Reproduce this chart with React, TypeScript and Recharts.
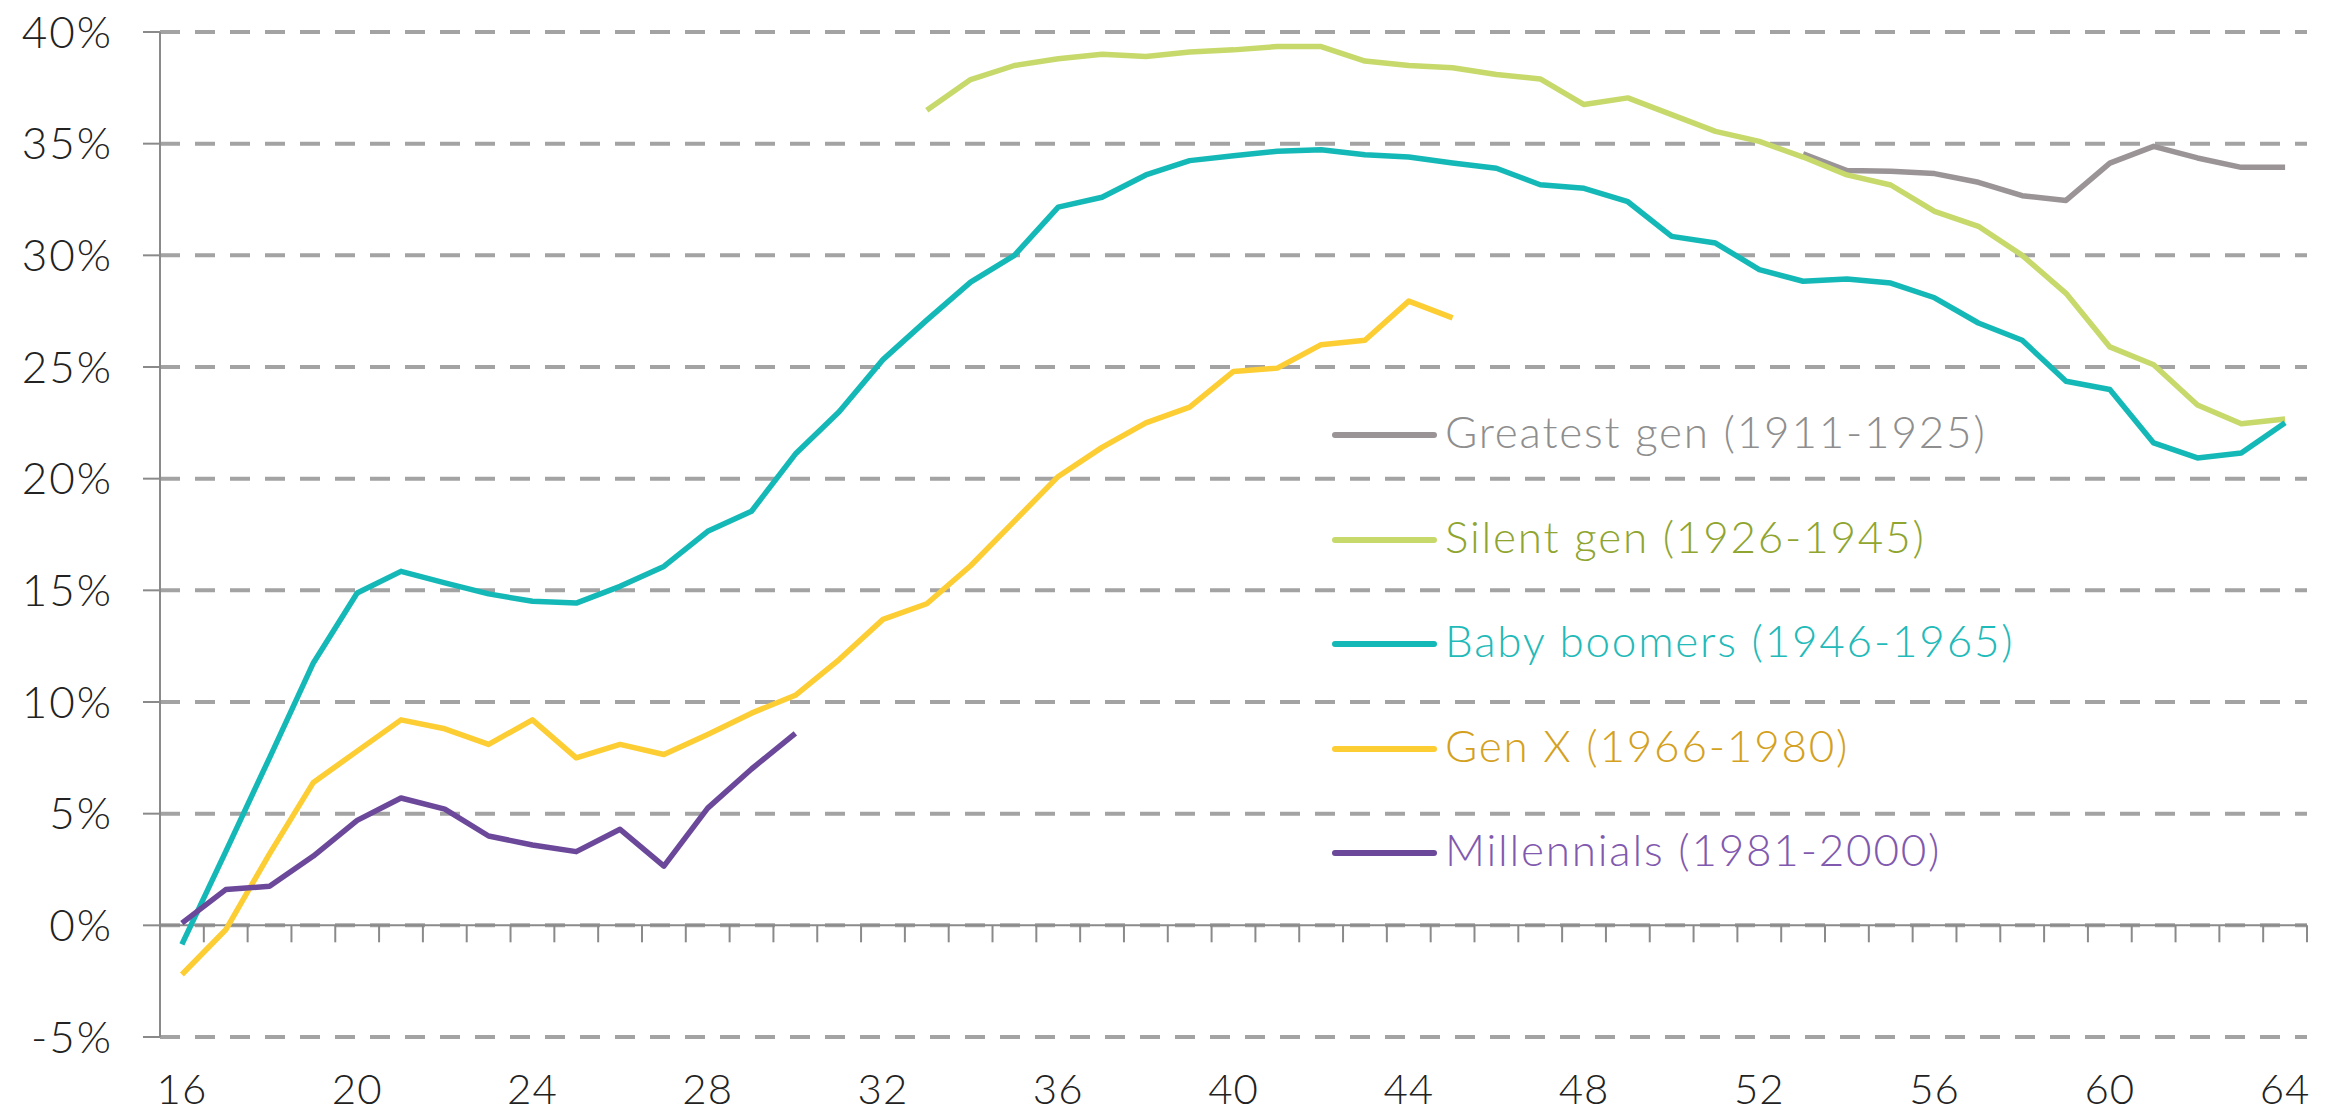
import React from 'react';
import { LineChart, Line, XAxis, YAxis, CartesianGrid, ReferenceLine, Legend } from 'recharts';

const ages = [
  16, 17, 18, 19, 20, 21, 22, 23, 24, 25, 26, 27, 28, 29, 30, 31, 32, 33, 34, 35, 36, 37, 38, 39, 40,
  41, 42, 43, 44, 45, 46, 47, 48, 49, 50, 51, 52, 53, 54, 55, 56, 57, 58, 59, 60, 61, 62, 63, 64,
];
const xTickLabels = [16, 20, 24, 28, 32, 36, 40, 44, 48, 52, 56, 60, 64];
const yTicks = [-5, 0, 5, 10, 15, 20, 25, 30, 35, 40];

const seriesNames = [
  'Greatest gen (1911-1925)',
  'Silent gen (1926-1945)',
  'Baby boomers (1946-1965)',
  'Gen X (1966-1980)',
  'Millennials (1981-2000)',
];
const seriesKeys = ['greatest', 'silent', 'boomers', 'genx', 'millennials'];
const lineColors = ['#9b9497', '#c8d96b', '#14b9b7', '#fdcd34', '#6c489b'];
const textColors = ['#8e8e8e', '#8fa52f', '#1fbab9', '#d4a11e', '#8159ae'];

const greatestStart = 53;
const greatestValues = [34.55, 33.8, 33.76, 33.66, 33.27, 32.67, 32.46, 34.13, 34.88, 34.36, 33.94, 33.94];

const silentStart = 33;
const silentValues = [
  36.5, 37.87, 38.5, 38.8, 39.0, 38.9, 39.1, 39.2, 39.35, 39.35, 38.7, 38.5, 38.4, 38.1, 37.9, 36.75,
  37.05, 36.3, 35.55, 35.1, 34.4, 33.6, 33.15, 31.97, 31.3, 30.0, 28.3, 25.9, 25.1, 23.3, 22.46, 22.67,
];

const boomersStart = 16;
const boomersValues = [
  -0.85, 3.3, 7.5, 11.75, 14.88, 15.85, 15.33, 14.84, 14.51, 14.43, 15.18, 16.07, 17.64, 18.54, 21.1,
  23.0, 25.33, 27.1, 28.8, 30.0, 32.16, 32.6, 33.6, 34.24, 34.46, 34.66, 34.73, 34.5, 34.4, 34.13, 33.9,
  33.16, 33.0, 32.4, 30.85, 30.55, 29.36, 28.84, 28.94, 28.76, 28.1, 26.97, 26.2, 24.36, 23.99, 21.6,
  20.93, 21.15, 22.5,
];

const genxStart = 16;
const genxValues = [
  -2.2, -0.2, 3.2, 6.4, 7.8, 9.2, 8.8, 8.1, 9.2, 7.5, 8.1, 7.65, 8.55, 9.5, 10.3, 11.9, 13.7, 14.4,
  16.1, 18.1, 20.1, 21.4, 22.5, 23.2, 24.8, 24.95, 26.0, 26.2, 27.95, 27.2,
];

const millennialsStart = 16;
const millennialsValues = [0.1, 1.6, 1.75, 3.1, 4.7, 5.7, 5.2, 4.0, 3.6, 3.3, 4.3, 2.65, 5.25, 7.0, 8.6];

function pick(values: number[], start: number, age: number) {
  const v = values[age - start];
  return v === undefined ? null : v;
}

const data = ages.map((age) => ({
  age,
  greatest: pick(greatestValues, greatestStart, age),
  silent: pick(silentValues, silentStart, age),
  boomers: pick(boomersValues, boomersStart, age),
  genx: pick(genxValues, genxStart, age),
  millennials: pick(millennialsValues, millennialsStart, age),
}));

const tickBoundaries = ages.map((a) => a + 0.5);

const FONT = 'Lato, "Open Sans", sans-serif';
const AXIS_COLOR = '#8a8a8a';

const renderLegend = (props: any) => {
  const payload = [...(props.payload || [])].sort(
    (a: any, b: any) => seriesKeys.indexOf(a.dataKey) - seriesKeys.indexOf(b.dataKey)
  );
  return (
    <div style={{ display: 'flex', flexDirection: 'column', fontFamily: FONT }}>
      {payload.map((entry: any, i: number) => {
        const idx = seriesKeys.indexOf(entry.dataKey);
        return (
          <div key={i} style={{ display: 'flex', alignItems: 'center', height: 104.5 }}>
            <div style={{ width: 105, height: 6, borderRadius: 3, background: lineColors[idx] }} />
            <span
              style={{
                marginLeft: 8,
                fontSize: 44,
                fontWeight: 300,
                letterSpacing: 1.8,
                lineHeight: 1,
                color: textColors[idx],
                position: 'relative',
                top: -4,
                whiteSpace: 'nowrap',
              }}
            >
              {entry.value}
            </span>
          </div>
        );
      })}
    </div>
  );
};

export default function App() {
  return (
    <div style={{ position: 'absolute', left: 0, top: 0, width: 2341, height: 1114, background: '#fff' }}>
      <LineChart
        width={2341}
        height={1114}
        data={data}
        margin={{ top: 32, right: 34, bottom: 0, left: 0 }}
      >
        <CartesianGrid
          vertical={false}
          stroke="#a3a3a3"
          strokeWidth={4}
          strokeDasharray="20 15"
        />
        <XAxis
          dataKey="age"
          type="number"
          domain={[15.5, 64.5]}
          ticks={xTickLabels}
          axisLine={false}
          tickLine={false}
          tickSize={6}
          tickMargin={31}
          height={77}
          tick={{ fontSize: 42, fill: '#222', fontFamily: FONT, fontWeight: 300, letterSpacing: 1 }}
          interval={0}
        />
        <YAxis
          type="number"
          domain={[-5, 40]}
          ticks={yTicks}
          width={160}
          tickSize={17}
          tickMargin={30}
          axisLine={{ stroke: AXIS_COLOR, strokeWidth: 2 }}
          tickLine={{ stroke: AXIS_COLOR, strokeWidth: 2 }}
          tickFormatter={(v: number) => `${v}%`}
          tick={{ fontSize: 44, fill: '#222', fontFamily: FONT, fontWeight: 300, letterSpacing: 2 }}
          interval={0}
        />
        <ReferenceLine y={0} stroke={AXIS_COLOR} strokeWidth={2} />
        {tickBoundaries.map((b) => (
          <ReferenceLine
            key={b}
            segment={[
              { x: b, y: 0 },
              { x: b, y: -0.76 },
            ]}
            stroke={AXIS_COLOR}
            strokeWidth={2}
          />
        ))}
        {seriesKeys.map((k, i) => (
          <Line
            key={k}
            dataKey={k}
            name={seriesNames[i]}
            stroke={lineColors[i]}
            strokeWidth={5.5}
            dot={false}
            activeDot={false}
            connectNulls={false}
            strokeLinejoin="round"
            isAnimationActive={false}
            type="linear"
          />
        ))}
        <Legend
          layout="vertical"
          align="center"
          verticalAlign="middle"
          content={renderLegend}
          wrapperStyle={{ left: 1332, top: 383, width: 900 }}
        />
      </LineChart>
    </div>
  );
}
